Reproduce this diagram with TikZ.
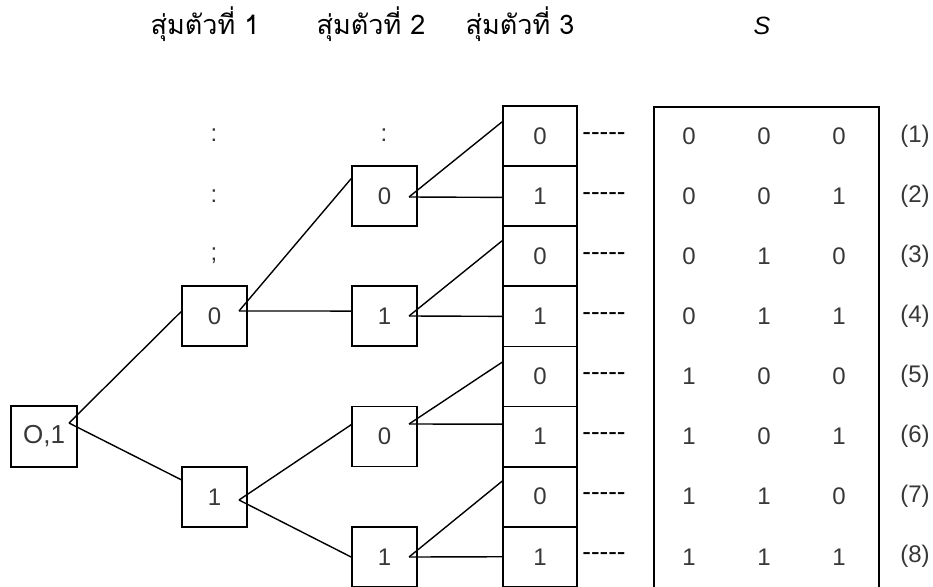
\documentclass[tikz,border=0pt]{standalone}
\usepackage{fontspec}
\setmainfont{Liberation Sans}
\newfontfamily\thaifont[Script=Thai]{Loma}
\usetikzlibrary{calc}
\definecolor{ink}{rgb}{0.22,0.22,0.22}
\tikzset{
  box/.style={draw=black, line width=1.8pt, minimum width=65pt, minimum height=60pt,
              inner sep=0pt, text=ink, font=\fontsize{24}{24}\selectfont},
  leaf/.style={box, minimum width=74pt, minimum height=60.1pt},
  val/.style={text=ink, font=\fontsize{24}{24}\selectfont, inner sep=0pt},
  head/.style={text=black, font=\fontsize{27}{27}\selectfont, anchor=base, inner sep=0pt},
  link/.style={line width=1.4pt, black},
  dashtxt/.style={text=black, font=\fontsize{26}{26}\selectfont, inner sep=0pt},
}
\begin{document}
\begin{tikzpicture}[x=1pt,y=-1pt]
\clip (0,0) rectangle (933,586);
\fill[white] (0,0) rectangle (933,586);

% column headings
\node[head] (h1) at (205,35) {\thaifont สุ่มตัวที่ 1};
\node[head] (h2) at (371,35) {\thaifont สุ่มตัวที่ 2};
\node[head] (h3) at (520,35) {\thaifont สุ่มตัวที่ 3};
\node[head, font=\fontsize{25}{25}\selectfont\itshape] (hs) at (762,35) {S};

% elided branches
\node[val] (d1) at (214,135) {:};
\node[val] (d2) at (214,196) {:};
\node[val] (d3) at (214,256) {;};
\node[val] (d4) at (384,135) {:};

% root
\node[box, font=\fontsize{26}{26}\selectfont, minimum width=66pt, minimum height=61pt] (r) at (44,436.5) {O,1};

% first draw
\node[box] (a0) at (214.5,316) {0};
\node[box] (a1) at (214.5,497) {1};

% second draw
\node[box] (b00) at (384.5,196) {0};
\node[box] (b01) at (384.5,316) {1};
\node[box] (b10) at (384.5,436.5) {0};
\node[box] (b11) at (384.5,557) {1};

% third draw
\foreach \v [count=\i] in {0,1,0,1,0,1,0,1}{
  \node[leaf] (c\i) at (540,{106+60.1*(\i-0.5)}) {\v};
  \node[dashtxt] (k\i) at (604,{106+60.1*(\i-0.5)}) {-{}-{}-{}-{}-};
}

% sample space frame
\node[draw=black, line width=1.8pt, minimum width=225pt, minimum height=490pt, inner sep=0pt, anchor=north west] (ss) at (653,106) {};
\foreach \p/\q/\s [count=\i] in {0/0/0,0/0/1,0/1/0,0/1/1,1/0/0,1/0/1,1/1/0,1/1/1}{
  \node[val] (s\i a) at (689,{106+60.1*(\i-0.5)}) {\p};
  \node[val] (s\i b) at (764,{106+60.1*(\i-0.5)}) {\q};
  \node[val] (s\i c) at (839,{106+60.1*(\i-0.5)}) {\s};
  \node[val] (n\i) at (915,{106+60.1*(\i-0.5)}) {(\i)};
}

% branch points
\coordinate (jr) at (69,423);
\coordinate (ja0) at (239,311);
\coordinate (ja1) at (239,500);
\coordinate (jb00) at (409,197);
\coordinate (jb01) at (409,316);
\coordinate (jb10) at (409,424);
\coordinate (jb11) at (409,557);

% branches
\draw[link] (jr) -- ($(a0.north west)!0.43!(a0.south west)$);
\draw[link] (jr) -- ($(a1.north west)!0.22!(a1.south west)$);
\draw[link] (ja0) -- ($(b00.north west)!0.22!(b00.south west)$);
\draw[link] (ja0) -- ($(b01.north west)!0.42!(b01.south west)$);
\draw[link] (ja1) -- ($(b10.north west)!0.31!(b10.south west)$);
\draw[link] (ja1) -- ($(b11.north west)!0.5!(b11.south west)$);
\draw[link] (jb00) -- ($(c1.north west)!0.27!(c1.south west)$);
\draw[link] (jb00) -- ($(c2.north west)!0.52!(c2.south west)$);
\draw[link] (jb01) -- ($(c3.north west)!0.25!(c3.south west)$);
\draw[link] (jb01) -- ($(c4.north west)!0.5!(c4.south west)$);
\draw[link] (jb10) -- ($(c5.north west)!0.27!(c5.south west)$);
\draw[link] (jb10) -- ($(c6.north west)!0.3!(c6.south west)$);
\draw[link] (jb11) -- ($(c7.north west)!0.25!(c7.south west)$);
\draw[link] (jb11) -- ($(c8.north west)!0.5!(c8.south west)$);
\end{tikzpicture}
\end{document}
